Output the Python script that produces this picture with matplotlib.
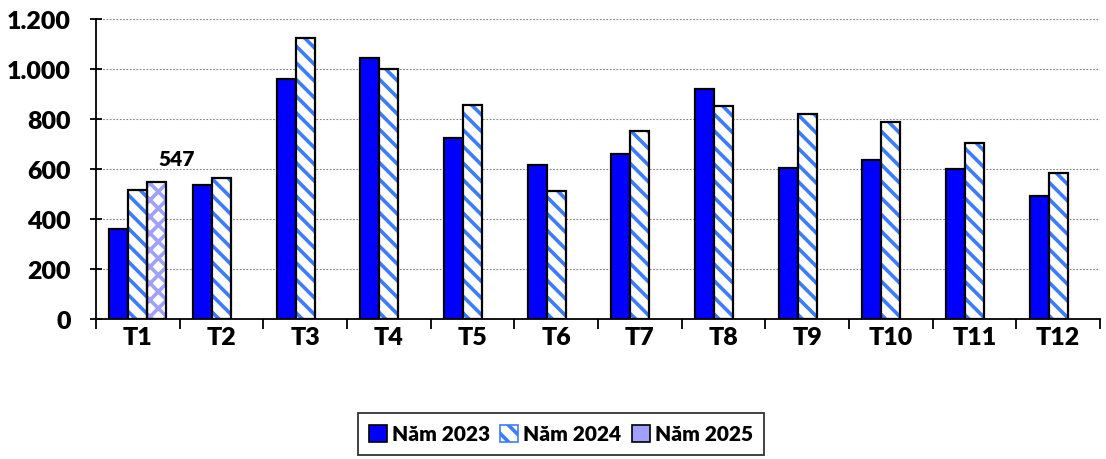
import matplotlib
matplotlib.use("Agg")
import matplotlib.pyplot as plt
import numpy as np
from matplotlib.patches import Patch

categories = ["T1", "T2", "T3", "T4", "T5", "T6", "T7", "T8", "T9", "T10", "T11", "T12"]
v2023 = [362, 535, 960, 1043, 724, 617, 660, 920, 605, 636, 600, 492]
v2024 = [515, 563, 1124, 1002, 856, 513, 752, 852, 820, 790, 704, 583]
v2025 = [547] + [np.nan] * 11
series_names = ["Năm 2023", "Năm 2024", "Năm 2025"]
yticks = [0, 200, 400, 600, 800, 1000, 1200]
ytick_labels = ["0", "200", "400", "600", "800", "1.000", "1.200"]

plt.rcParams['font.family'] = ['Lato', 'DejaVu Sans']
plt.rcParams['hatch.linewidth'] = 2.6

fig = plt.figure(figsize=(11.06, 4.6), dpi=100)
ax = fig.add_axes([96/1106, 1-320/460, (1100-96)/1106, 300/460])

x = np.arange(len(categories))
w = 0.227
blue = '#0000ff'
stripe = '#3c7cff'
lav = '#a0a0ff'
fs = 18
fw = 'heavy'

ax.bar(x - w, v2023, w, color=blue, edgecolor='black', linewidth=1.6, zorder=3)
# 2024: hatched white
ax.bar(x, v2024, w, facecolor='white', edgecolor=stripe, hatch='\\\\', linewidth=0, zorder=3)
ax.bar(x, v2024, w, facecolor='none', edgecolor='black', linewidth=1.6, zorder=4)
# 2025
ax.bar(x + w, v2025, w, facecolor='white', edgecolor=lav, hatch='xx', linewidth=0, zorder=3)
ax.bar(x + w, v2025, w, facecolor='none', edgecolor='black', linewidth=1.6, zorder=4)

for i, v in enumerate(v2025):
    if not np.isnan(v):
        ax.annotate(f"{int(v)}", (x[i] + w, v), xytext=(14, 10), textcoords='offset points',
                    ha='center', va='bottom', fontsize=15, fontweight=fw)

ax.set_xlim(-0.5, len(categories) - 0.5)
ax.set_ylim(0, 1200)
ax.set_yticks(yticks)
ax.set_yticklabels(ytick_labels, fontsize=fs, fontweight=fw)
ax.set_xticks(x)
ax.set_xticklabels(categories, fontsize=fs, fontweight=fw)
ax.set_xticks(np.arange(-0.5, len(categories)), minor=True)
ax.tick_params(axis='x', which='major', length=0, pad=5)
ax.tick_params(axis='x', which='minor', length=7, width=1.3, direction='out')
ax.tick_params(axis='y', length=8, width=1.3, direction='inout', pad=14)

ax.grid(axis='y', linestyle=(0, (1.5, 1.5)), color='#808080', linewidth=0.8, zorder=0)
for s in ['top', 'right']:
    ax.spines[s].set_visible(False)
ax.spines['left'].set_linewidth(1.3)
ax.spines['bottom'].set_linewidth(1.3)

handles = [
    Patch(facecolor=blue, edgecolor='black', linewidth=1.2),
    Patch(facecolor='white', edgecolor=stripe, hatch='\\\\', linewidth=1.2),
    Patch(facecolor=lav, edgecolor='black', linewidth=1.2),
]
leg = fig.legend(handles, series_names, loc='center', bbox_to_anchor=(561/1106, 1-435/460),
                 ncol=3, frameon=True, fancybox=False, edgecolor='black',
                 prop={'size': 15, 'weight': fw}, handlelength=0.85, handleheight=0.85,
                 handletextpad=0.25, columnspacing=0.5, borderpad=0.55)
leg.get_frame().set_linewidth(1.3)

fig.savefig("out.png", dpi=100)
